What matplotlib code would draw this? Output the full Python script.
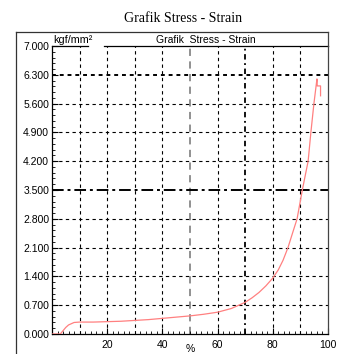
import matplotlib
matplotlib.use("Agg")
import matplotlib.pyplot as plt
from matplotlib.lines import Line2D
from matplotlib.ticker import MultipleLocator, FormatStrFormatter
import numpy as np

# data (strain %, stress kgf/mm2)
strain = [0, 3, 4, 5, 6, 7, 8, 10, 15, 20, 25, 30, 35, 40, 45, 50, 55, 60, 65,
          70, 72.5, 75, 77.5, 80, 82, 83.7, 85.5, 87, 88.8, 90.7, 92.8, 93.8,
          94.9, 96.0, 96.1, 97.3, 97.3]
stress = [0, 0, 0.08, 0.16, 0.22, 0.25, 0.28, 0.29, 0.29, 0.30, 0.31, 0.33, 0.35,
          0.38, 0.41, 0.44, 0.48, 0.53, 0.62, 0.77, 0.88, 1.01, 1.17, 1.36,
          1.56, 1.79, 2.1, 2.42, 2.8, 3.5, 4.2, 4.9, 5.6, 6.2, 6.03, 6.03, 5.79]

x_ticks = [20, 40, 60, 80, 100]
y_ticks = [0.0, 0.7, 1.4, 2.1, 2.8, 3.5, 4.2, 4.9, 5.6, 6.3, 7.0]
x_grid = [10, 20, 30, 40, 60, 80, 90]
y_grid = [0.7, 1.4, 2.1, 2.8, 4.2, 4.9, 5.6]

plt.rcParams['font.family'] = ['Liberation Sans', 'DejaVu Sans']

fig = plt.figure(figsize=(3.45, 3.54), dpi=100)
ax = fig.add_axes([0.1507, 0.0565, 0.8, 0.8135])

# grid lines
for xv in x_grid:
    ax.axvline(xv, color='black', lw=0.8, dashes=(3, 3), zorder=1)
ax.axvline(50, color='#888888', lw=1.3, dashes=(4, 3), zorder=1)
ax.axvline(70, color='black', lw=1.3, dashes=(3, 2, 1, 2), zorder=1)
for yv in y_grid:
    ax.axhline(yv, color='black', lw=0.8, dashes=(3, 3), zorder=1)
ax.axhline(3.5, color='black', lw=1.4, dashes=(6, 2, 1.5, 2), zorder=1)
ax.axhline(6.3, color='black', lw=1.4, dashes=(2, 2), zorder=1)

ax.plot(strain, stress, color='#ff8080', lw=0.9, zorder=3)

ax.set_xlim(0, 100)
ax.set_ylim(0, 7.0)
ax.set_xticks(x_ticks)
ax.set_yticks(y_ticks)
ax.yaxis.set_major_formatter(FormatStrFormatter('%.3f'))
ax.xaxis.set_minor_locator(MultipleLocator(2))
ax.yaxis.set_minor_locator(MultipleLocator(0.14))
ax.tick_params(which='major', direction='in', length=4, width=0.8,
               labelsize=7.5, pad=2)
ax.tick_params(which='minor', direction='in', length=2, width=0.6)
ax.tick_params(axis='x', pad=4)

for s in ['left', 'bottom', 'right']:
    ax.spines[s].set_linewidth(0.9)
ax.spines['right'].set_color('#444444')
ax.spines['top'].set_visible(False)
# top spine with a small gap after the unit label
ax.plot([0, 0.13], [1, 1], transform=ax.transAxes, color='black', lw=0.9,
        clip_on=False)
ax.plot([0.19, 1], [1, 1], transform=ax.transAxes, color='black', lw=0.9,
        clip_on=False)

ax.text(0.004, 1.005, 'kgf/mm²', transform=ax.transAxes, fontsize=7.8,
        ha='left', va='bottom')
ax.text(0.558, 1.005, 'Grafik  Stress - Strain', transform=ax.transAxes,
        fontsize=7.5, ha='center', va='bottom')
ax.annotate('%', xy=(50, 0), xycoords=('data', 'axes fraction'),
            xytext=(0, -10.5), textcoords='offset points', ha='center',
            va='center', fontsize=7.5)

fig.text(0.53, 0.949, 'Grafik Stress - Strain', family='Liberation Serif',
         fontsize=10, ha='center', va='center')

# outer frame
x0, xr, yt, yb = 16 / 345, 0.9507, (354 - 32) / 354, 0.0
fig.add_artist(Line2D([x0, x0], [yb, yt], color='#333333', lw=0.9))
fig.add_artist(Line2D([x0, xr], [yt, yt], color='#333333', lw=0.9))
fig.add_artist(Line2D([xr, xr], [yt, 0.87], color='#444444', lw=0.9))

fig.savefig('out.png', dpi=100)
